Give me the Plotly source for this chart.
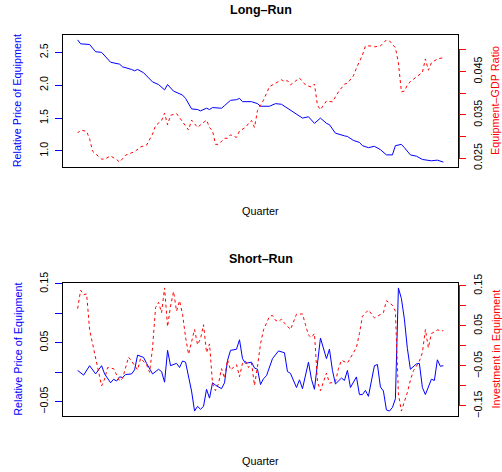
import plotly.graph_objects as go

# ---------------- data ----------------
# Long-run panel: relative price of equipment (left axis)
lr_price_q = [0, 1, 4, 6, 8, 11, 14, 15, 18, 19, 20, 22, 25, 27, 29, 30, 32, 34, 35, 36,
              38, 40, 41, 43, 44, 45, 48, 49, 51, 53, 54, 55, 58, 60, 61, 64, 66, 68, 70, 71,
              73, 75, 77, 79, 81, 83, 84, 86, 89, 90, 92, 94, 95, 97, 99, 101, 103, 105, 106, 108,
              109, 111, 113, 115, 118, 119, 120, 122]
lr_price = [2.69, 2.63, 2.62, 2.51, 2.50, 2.35, 2.32, 2.28, 2.24, 2.22, 2.24, 2.19, 2.05, 2.01, 1.93, 2.01, 1.91, 1.87, 1.85, 1.80,
            1.64, 1.63, 1.61, 1.65, 1.63, 1.66, 1.65, 1.69, 1.77, 1.78, 1.80, 1.75, 1.75, 1.72, 1.68, 1.68, 1.72, 1.71, 1.65, 1.62,
            1.55, 1.50, 1.52, 1.42, 1.50, 1.42, 1.40, 1.27, 1.23, 1.22, 1.16, 1.13, 1.08, 1.05, 1.07, 1.02, 0.94, 0.94, 1.08, 1.10,
            1.05, 0.94, 0.92, 0.87, 0.85, 0.85, 0.86, 0.83]

# Long-run panel: equipment-GDP ratio (right axis)
lr_ratio_q = [0, 1, 3, 4, 5, 8, 9, 11, 13, 14, 16, 18, 19, 21, 23, 25, 26, 28, 29, 30,
              31, 33, 34, 35, 37, 38, 40, 41, 43, 44, 45, 46, 47, 49, 50, 51, 53, 54, 56, 57,
              58, 59, 60, 61, 62, 64, 66, 68, 69, 70, 71, 73, 74, 76, 78, 79, 80, 81, 82, 83,
              85, 87, 89, 90, 92, 93, 95, 96, 98, 99, 101, 103, 104, 106, 107, 108, 109, 110, 111, 113,
              115, 116, 117, 118, 120, 122]
lr_ratio = [0.0308, 0.0315, 0.0312, 0.0294, 0.0266, 0.0248, 0.0248, 0.0255, 0.0247, 0.0241, 0.0257, 0.0262, 0.0265, 0.0276, 0.0280, 0.0306, 0.0325, 0.0337, 0.0354, 0.0327,
            0.0349, 0.0353, 0.0343, 0.0333, 0.0315, 0.0338, 0.0321, 0.0327, 0.0338, 0.0321, 0.0313, 0.0282, 0.0282, 0.0296, 0.0296, 0.0304, 0.0298, 0.0313, 0.0321, 0.0330,
            0.0337, 0.0321, 0.0360, 0.0372, 0.0384, 0.0415, 0.0423, 0.0431, 0.0427, 0.0429, 0.0419, 0.0431, 0.0435, 0.0419, 0.0414, 0.0421, 0.0372, 0.0362, 0.0372, 0.0382,
            0.0380, 0.0403, 0.0421, 0.0423, 0.0440, 0.0458, 0.0488, 0.0509, 0.0509, 0.0507, 0.0509, 0.0523, 0.0521, 0.0505, 0.0470, 0.0403, 0.0405, 0.0419, 0.0427, 0.0438,
            0.0448, 0.0479, 0.0453, 0.0470, 0.0479, 0.0482]

# Short-run panel: relative price of equipment (left axis)
sr_price_q = [0, 2, 4, 5, 6, 8, 9, 11, 12, 13, 14, 15, 16, 18, 19, 20, 22, 23, 25, 27,
              28, 29, 30, 31, 33, 34, 35, 36, 38, 39, 40, 41, 42, 43, 44, 45, 46, 48, 49, 50,
              51, 53, 54, 55, 56, 58, 59, 60, 61, 62, 63, 65, 67, 69, 70, 71, 73, 74, 75, 77,
              78, 79, 81, 83, 84, 85, 86, 88, 89, 90, 91, 93, 94, 95, 96, 97, 99, 100, 101, 102,
              103, 104, 105, 106, 107, 108, 109, 110, 111, 113, 114, 115, 116, 118, 119, 120, 121, 122]
sr_price = [0.003, -0.005, 0.011, 0.004, -0.003, 0.011, -0.003, -0.018, -0.012, -0.015, -0.008, -0.009, -0.004, -0.003, 0.004, 0.029, 0.025, 0.015, -0.003, 0.005,
            0.001, -0.017, 0.037, 0.011, 0.015, 0.008, 0.019, 0.017, -0.032, -0.066, -0.058, -0.063, -0.058, -0.029, -0.044, -0.018, -0.022, -0.028, -0.018, 0.020,
            0.037, 0.039, 0.055, 0.023, 0.015, 0.017, 0.007, 0.005, -0.021, -0.011, -0.006, 0.023, 0.036, 0.033, 0.001, -0.002, -0.026, -0.013, -0.028, 0.017,
            -0.012, -0.029, 0.058, 0.023, 0.039, 0.003, -0.020, -0.010, -0.014, 0.003, -0.026, -0.008, -0.038, -0.038, -0.031, -0.041, 0.011, 0.013, -0.025, -0.032,
            -0.064, -0.066, -0.060, -0.045, 0.143, 0.125, 0.090, 0.040, 0.005, 0.014, 0.015, -0.026, -0.038, -0.012, -0.014, 0.021, 0.010, 0.011]

# Short-run panel: investment in equipment (right axis)
sr_invest_q = [0, 1, 2, 3, 4, 6, 7, 8, 9, 10, 12, 14, 15, 16, 17, 18, 20, 21, 23, 24,
               25, 26, 27, 28, 29, 30, 31, 32, 33, 34, 35, 36, 37, 39, 40, 41, 42, 43, 44, 45,
               46, 47, 48, 49, 50, 51, 53, 54, 55, 56, 57, 58, 59, 60, 61, 62, 64, 65, 66, 67,
               68, 69, 70, 71, 73, 75, 76, 77, 78, 79, 80, 81, 82, 83, 84, 86, 87, 88, 90, 91,
               93, 94, 95, 97, 99, 100, 102, 103, 105, 106, 107, 108, 110, 111, 112, 113, 114, 115, 116, 117,
               118, 119, 120, 121, 122]
sr_invest = [0.093, 0.139, 0.128, 0.130, 0.040, -0.034, -0.064, -0.100, -0.083, -0.054, -0.057, -0.088, -0.081, -0.057, -0.028, -0.038, -0.060, -0.031, -0.047, -0.066,
             -0.004, 0.096, 0.109, 0.083, 0.145, 0.048, 0.100, 0.136, 0.087, 0.113, 0.079, 0.022, -0.021, 0.041, 0.003, 0.018, 0.053, -0.017, 0.005, -0.094,
             -0.112, -0.094, -0.057, -0.081, -0.034, -0.060, -0.047, -0.077, -0.043, -0.038, -0.054, -0.043, -0.099, -0.051, 0.005, 0.040, 0.074, 0.076, 0.064, 0.061,
             0.067, 0.057, 0.048, 0.041, 0.079, 0.080, 0.053, 0.027, 0.021, 0.031, -0.090, -0.112, -0.090, -0.068, -0.093, -0.090, -0.057, -0.036, -0.043, -0.030,
             -0.004, 0.031, 0.074, 0.090, 0.070, 0.074, 0.083, 0.113, 0.102, 0.087, -0.120, -0.163, -0.116, -0.086, -0.062, -0.051, -0.038, -0.017, 0.041, -0.005,
             0.031, 0.035, 0.040, 0.038, 0.038]

# Tick values / labels
lr_left_ticks = [1.0, 1.5, 2.0, 2.5]
lr_left_labels = ["1.0", "1.5", "2.0", "2.5"]
lr_right_ticks = [0.025, 0.030, 0.035, 0.040, 0.045, 0.050]
lr_right_labels = ["0.025", "", "0.035", "", "0.045", ""]
sr_left_ticks = [-0.05, 0.0, 0.05, 0.10, 0.15]
sr_left_labels = ["\u22120.05", "", "0.05", "", "0.15"]
sr_right_ticks = [-0.15, -0.10, -0.05, 0.0, 0.05, 0.10, 0.15]
sr_right_labels = ["\u22120.15", "", "\u22120.05", "", "0.05", "", "0.15"]


def rng(*series):
    vals = [v for s in series for v in s]
    lo, hi = min(vals), max(vals)
    pad = 0.04 * (hi - lo)
    return [lo - pad, hi + pad]


# ---------------- figure ----------------
W, H = 502, 472
L, R = 63, 44
FONT = "Liberation Sans, Arial, Helvetica, sans-serif"
BLUE = "#0000FF"
RED = "#FF0000"
DASH = "3px,3px"


def py(px):  # pixel row -> paper y
    return 1 - px / H


def px_(x):  # pixel column -> paper x
    return (x - L) / (W - L - R)


top_dom = [py(167), py(35)]
bot_dom = [py(416), py(283)]

fig = go.Figure()
fig.add_trace(go.Scatter(x=lr_price_q, y=lr_price, mode="lines",
                         line=dict(color=BLUE, width=1), xaxis="x", yaxis="y"))
fig.add_trace(go.Scatter(x=lr_ratio_q, y=lr_ratio, mode="lines",
                         line=dict(color=RED, width=1, dash=DASH), xaxis="x", yaxis="y3"))
fig.add_trace(go.Scatter(x=sr_price_q, y=sr_price, mode="lines",
                         line=dict(color=BLUE, width=1), xaxis="x2", yaxis="y2"))
fig.add_trace(go.Scatter(x=sr_invest_q, y=sr_invest, mode="lines",
                         line=dict(color=RED, width=1, dash=DASH), xaxis="x2", yaxis="y4"))

xr = rng(lr_price_q)
tick_font = dict(family=FONT, size=10.8, color="black")

common_x = dict(domain=[0, 1], range=xr, showticklabels=False, ticks="",
                showline=True, mirror=True, linecolor="black", linewidth=1,
                showgrid=False, zeroline=False, automargin=False)
left_y = dict(ticks="outside", ticklen=7, tickcolor=BLUE, tickwidth=1, tickangle=-90,
              showline=True, mirror=True, linecolor="black", linewidth=1,
              showgrid=False, zeroline=False, tickfont=tick_font, ticklabelstandoff=3,
              automargin=False)
right_y = dict(ticks="outside", ticklen=7, tickcolor=RED, tickwidth=1, tickangle=-90,
               side="right", showline=False, showgrid=False, zeroline=False,
               tickfont=tick_font, ticklabelstandoff=3, automargin=False)

fig.update_layout(
    template="none",
    width=W, height=H,
    margin=dict(l=L, r=R, t=0, b=0, pad=0, autoexpand=False),
    paper_bgcolor="white", plot_bgcolor="white",
    showlegend=False,
    font=dict(family=FONT, size=10.8, color="black"),
    xaxis=dict(anchor="y", **common_x),
    xaxis2=dict(anchor="y2", **common_x),
    yaxis=dict(domain=top_dom, anchor="x", range=rng(lr_price),
               tickvals=lr_left_ticks, ticktext=lr_left_labels, **left_y),
    yaxis2=dict(domain=bot_dom, anchor="x2", range=rng(sr_price),
                tickvals=sr_left_ticks, ticktext=sr_left_labels, **left_y),
    yaxis3=dict(overlaying="y", anchor="x", range=rng(lr_ratio),
                tickvals=lr_right_ticks, ticktext=lr_right_labels, **right_y),
    yaxis4=dict(overlaying="y2", anchor="x2", range=rng(sr_invest),
                tickvals=sr_right_ticks, ticktext=sr_right_labels, **right_y),
)

# red axis lines on the right spanning the tick range
fig.add_shape(type="line", xref="paper", yref="y3", x0=px_(459.5), x1=px_(459.5),
              y0=lr_right_ticks[0], y1=lr_right_ticks[-1], line=dict(color=RED, width=1))
fig.add_shape(type="line", xref="paper", yref="y4", x0=px_(459.5), x1=px_(459.5),
              y0=sr_right_ticks[0], y1=sr_right_ticks[-1], line=dict(color=RED, width=1))

ann = []
def text(t, x, y, size=10.8, color="black", bold=False, angle=0):
    ann.append(dict(text=("<b>%s</b>" % t) if bold else t, x=x, y=y, xref="paper", yref="paper",
                    showarrow=False, xanchor="center", yanchor="middle", textangle=angle,
                    font=dict(family=FONT, size=size, color=color)))

text("Long\u2013Run", px_(260.5), py(10), size=12.5, bold=True)
text("Short\u2013Run", px_(260.5), py(259), size=12.5, bold=True)
text("Quarter", px_(260.5), py(211))
text("Quarter", px_(260.5), py(461))
text("Relative Price of Equipment", px_(17.3), py(101), color=BLUE, angle=-90)
text("Relative Price of Equipment", px_(17.3), py(349.5), color=BLUE, angle=-90)
text("Equipment\u2013GDP Ratio", px_(495), py(101), color=RED, angle=-90)
text("Investment in Equipment", px_(495), py(349.5), color=RED, angle=-90)
fig.update_layout(annotations=ann)

fig.write_html("out.html")
